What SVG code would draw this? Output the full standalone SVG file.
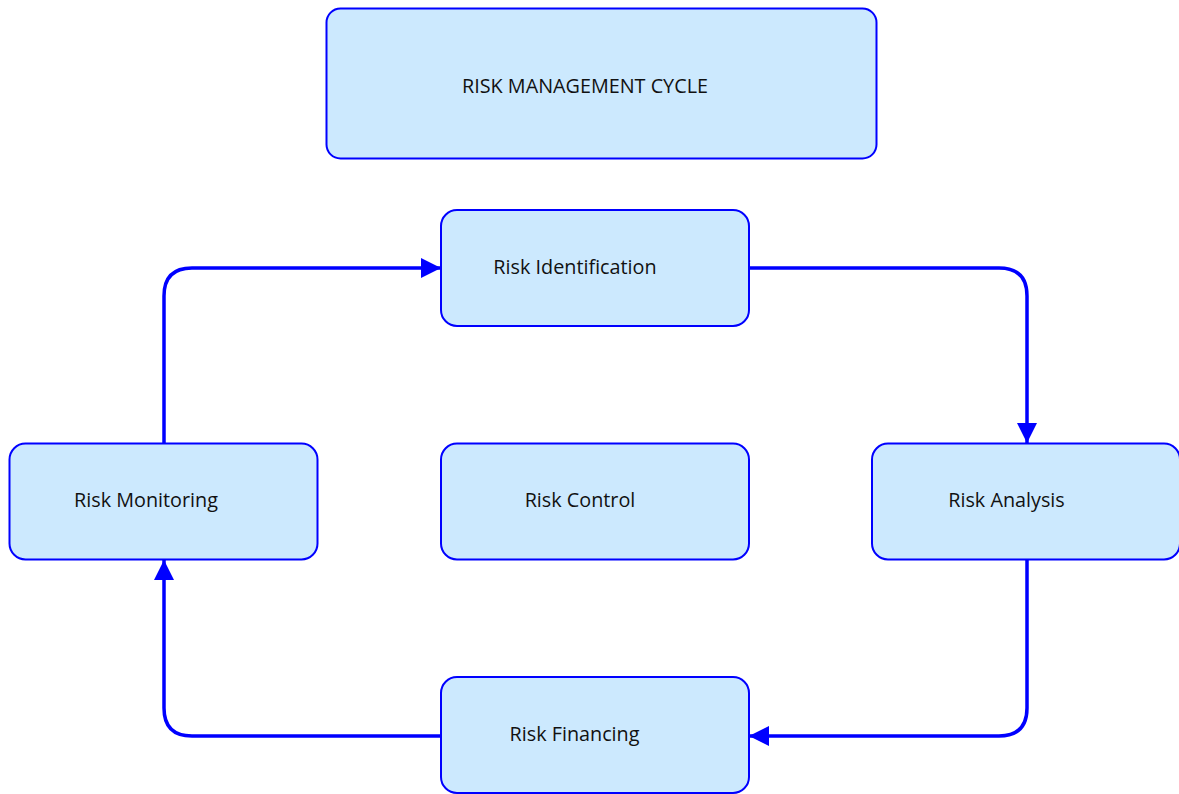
<svg xmlns="http://www.w3.org/2000/svg" width="1179" height="794" viewBox="0 0 1179 794">
<style>
.box{fill:#CCE9FE;stroke:#0000FF;stroke-width:2}
.lbl{font-family:"Open Sans","Liberation Sans",sans-serif;font-size:19.8px;fill:#111;text-anchor:middle}
.conn{fill:none;stroke:#0000FF;stroke-width:3.5}
</style>
<defs>
<marker id="arr" markerUnits="userSpaceOnUse" markerWidth="20" markerHeight="20" viewBox="0 0 20 20" refX="20" refY="10" orient="auto">
<path d="M0,0 L20,10 L0,20 Z" fill="#0000FF"/>
</marker>
</defs>
<rect width="1179" height="794" fill="#fff"/>
<g id="connectors">
<path class="conn" d="M749,268 H999 Q1027,268 1027,296 V443" marker-end="url(#arr)"/>
<path class="conn" d="M1027,560 V708 Q1027,736 999,736 H749" marker-end="url(#arr)"/>
<path class="conn" d="M441,736 H192 Q164,736 164,708 V560" marker-end="url(#arr)"/>
<path class="conn" d="M164,443 V296 Q164,268 192,268 H441" marker-end="url(#arr)"/>
</g>
<g id="title">
<rect class="box" x="326.5" y="8.5" width="550" height="150" rx="14"/>
<text class="lbl" x="585" y="93">RISK MANAGEMENT CYCLE</text>
</g>
<g id="identification">
<rect class="box" x="441" y="210" width="308" height="116" rx="16"/>
<text class="lbl" x="575" y="274">Risk Identification</text>
</g>
<g id="monitoring">
<rect class="box" x="9.5" y="443.5" width="308" height="116" rx="16"/>
<text class="lbl" x="146" y="507">Risk Monitoring</text>
</g>
<g id="control">
<rect class="box" x="441" y="443.5" width="308" height="116" rx="16"/>
<text class="lbl" x="580" y="507">Risk Control</text>
</g>
<g id="analysis">
<rect class="box" x="872" y="443.5" width="308" height="116" rx="16"/>
<text class="lbl" x="1006.5" y="507">Risk Analysis</text>
</g>
<g id="financing">
<rect class="box" x="441" y="677" width="308" height="116" rx="16"/>
<text class="lbl" x="574.5" y="741">Risk Financing</text>
</g>
</svg>
